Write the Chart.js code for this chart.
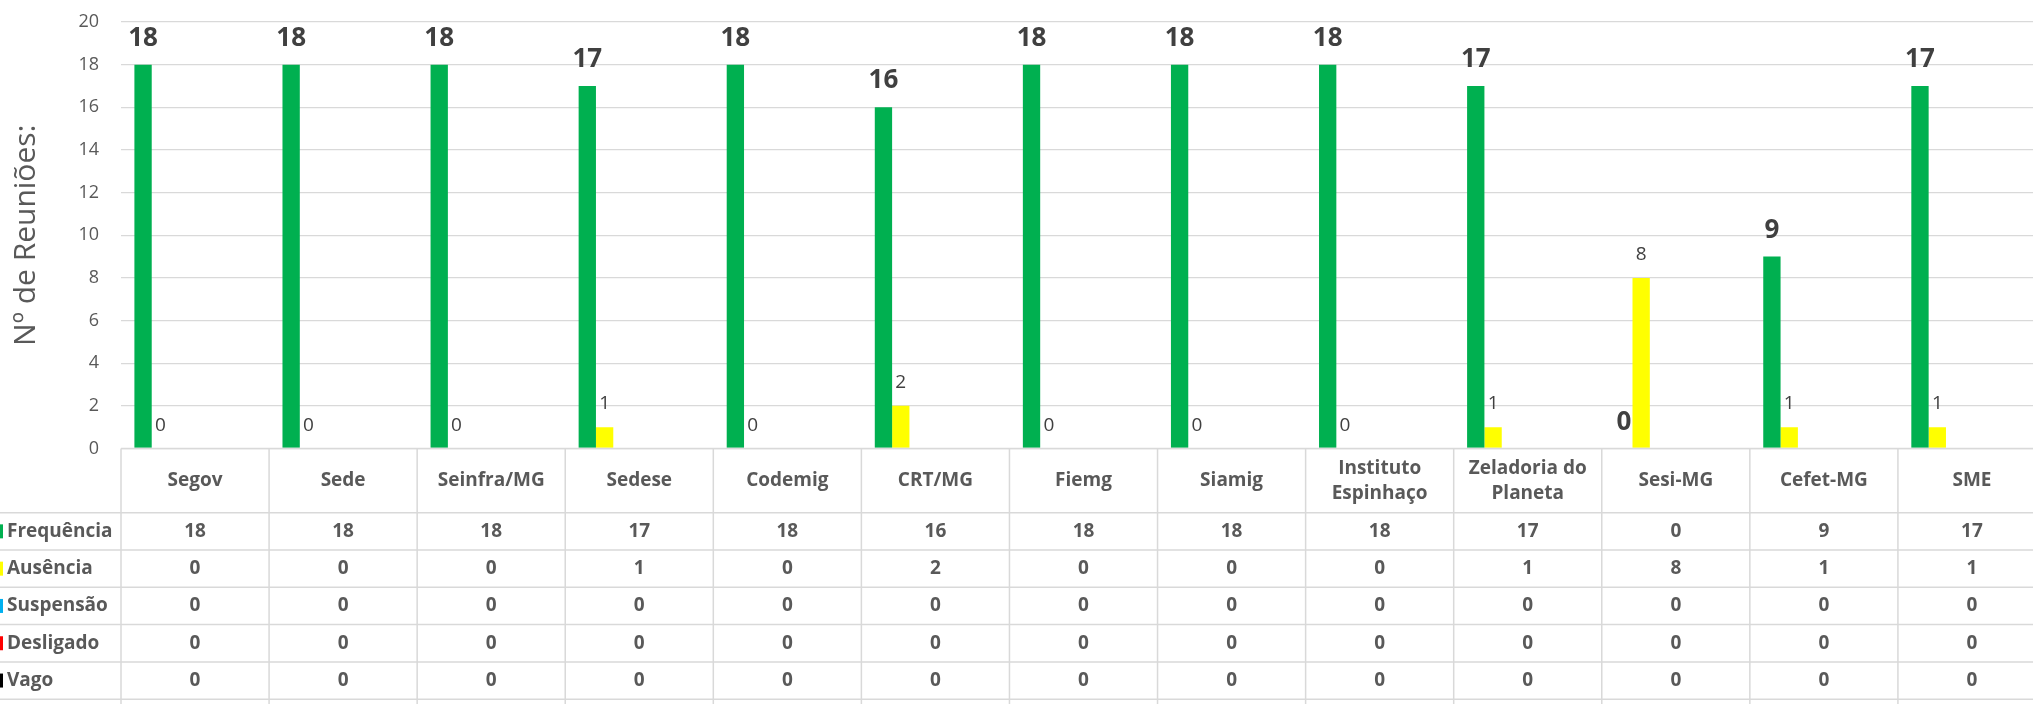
<!DOCTYPE html>
<html>
<head>
<meta charset="utf-8">
<script src="https://cdn.jsdelivr.net/npm/chart.js@4.4.0/dist/chart.umd.min.js"></script>
<style>
html, body { margin: 0; padding: 0; overflow: hidden; background: #fff; }
#wrap { width: 2060px; height: 704px; }
</style>
</head>
<body>
<div id="wrap"><canvas id="grafico"></canvas></div>
<script>
// dados do gráfico
var categorias = ['Segov', 'Sede', 'Seinfra/MG', 'Sedese', 'Codemig', 'CRT/MG', 'Fiemg', 'Siamig',
    ['Instituto', 'Espinhaço'], ['Zeladoria do', 'Planeta'], 'Sesi-MG', 'Cefet-MG', 'SME'];
var frequencia = [18, 18, 18, 17, 18, 16, 18, 18, 18, 17, 0, 9, 17];
var ausencia   = [0, 0, 0, 1, 0, 2, 0, 0, 0, 1, 8, 1, 1];
var suspensao  = [0, 0, 0, 0, 0, 0, 0, 0, 0, 0, 0, 0, 0];
var desligado  = [0, 0, 0, 0, 0, 0, 0, 0, 0, 0, 0, 0, 0];
var vago       = [0, 0, 0, 0, 0, 0, 0, 0, 0, 0, 0, 0, 0];
var nomesSeries = ['Frequência', 'Ausência', 'Suspensão', 'Desligado', 'Vago'];
var coresSeries = ['#00B050', '#FFFF00', '#00B0F0', '#FF0000', '#000000'];
var valoresSeries = [frequencia, ausencia, suspensao, desligado, vago];
var yMin = 0, yMax = 20, yPasso = 2;

var fonte = '"Open Sans", sans-serif';
var cinza = '#595959';

// rótulos das barras + tabela de dados abaixo do gráfico
var tabelaPlugin = {
    id: 'tabela',
    afterDatasetsDraw: function (chart) {
        var ctx = chart.ctx;
        ctx.save();
        ctx.fillStyle = '#404040';
        ctx.textAlign = 'center';
        ctx.textBaseline = 'alphabetic';
        // Frequência: negrito grande
        ctx.font = 'bold 26px ' + fonte;
        chart.getDatasetMeta(0).data.forEach(function (bar, i) {
            ctx.fillText(frequencia[i], bar.x, bar.y - 19);
        });
        // Ausência: normal
        ctx.font = '19px ' + fonte;
        chart.getDatasetMeta(1).data.forEach(function (bar, i) {
            ctx.fillText(ausencia[i], bar.x, bar.y - 18);
        });
        ctx.restore();
    },
    afterDraw: function (chart) {
        var ctx = chart.ctx;
        var x = chart.scales.x;
        var area = chart.chartArea;
        var W = chart.width, H = chart.height;
        var colW = (area.right - area.left) / categorias.length;
        var topo = area.bottom;
        var altCat = 64.2, altLinha = 37.3;

        ctx.save();
        ctx.strokeStyle = '#d9d9d9';
        ctx.lineWidth = 1.5;
        ctx.beginPath();
        ctx.moveTo(area.left, topo);
        ctx.lineTo(W, topo);
        for (var r = 0; r <= 6; r++) {
            var yy = topo + altCat + r * altLinha;
            ctx.moveTo(0, yy);
            ctx.lineTo(W, yy);
        }
        for (var c = 0; c <= categorias.length; c++) {
            var xx = area.left + c * colW;
            ctx.moveTo(xx, topo);
            ctx.lineTo(xx, H);
        }
        ctx.stroke();

        // nomes das categorias
        ctx.fillStyle = cinza;
        ctx.font = 'bold 19px ' + fonte;
        ctx.textAlign = 'center';
        ctx.textBaseline = 'middle';
        categorias.forEach(function (cat, i) {
            var cx = x.getPixelForValue(i);
            var cy = topo + altCat / 2;
            if (Array.isArray(cat)) {
                ctx.fillText(cat[0], cx, cy - 12);
                ctx.fillText(cat[1], cx, cy + 13);
            } else {
                ctx.fillText(cat, cx, cy);
            }
        });

        // linhas de séries
        nomesSeries.forEach(function (nome, s) {
            var cy = topo + altCat + s * altLinha + altLinha / 2;
            ctx.fillStyle = coresSeries[s];
            ctx.fillRect(0, cy - 7, 3, 14);
            ctx.fillStyle = cinza;
            ctx.textAlign = 'left';
            ctx.fillText(nome, 7, cy);
            ctx.textAlign = 'center';
            valoresSeries[s].forEach(function (v, i) {
                ctx.fillText(v, x.getPixelForValue(i), cy);
            });
        });
        ctx.restore();
    }
};

var datasets = nomesSeries.map(function (nome, s) {
    return {
        label: nome,
        data: valoresSeries[s],
        backgroundColor: coresSeries[s],
        borderWidth: 0
    };
});
// duas séries vazias (linhas da tabela cortadas abaixo) só ocupam espaço no grupo
datasets.push({ label: '', data: [], backgroundColor: 'transparent' });
datasets.push({ label: '', data: [], backgroundColor: 'transparent' });

var ctxGrafico = document.getElementById('grafico').getContext('2d');
var grafico = new Chart(ctxGrafico, {
    type: 'bar',
    data: {
        labels: categorias,
        datasets: datasets
    },
    options: {
        responsive: true,
        maintainAspectRatio: false,
        animation: false,
        categoryPercentage: 0.819,
        barPercentage: 1,
        layout: { padding: { top: 22, right: 14, bottom: 255.5, left: 0 } },
        plugins: {
            legend: { display: false },
            tooltip: { enabled: false }
        },
        scales: {
            x: { display: false },
            y: {
                min: yMin,
                max: yMax,
                border: { display: false },
                grid: { color: '#d9d9d9', lineWidth: 1.3, drawTicks: false },
                ticks: { stepSize: yPasso, color: cinza, padding: 22, font: { family: fonte, size: 18 } },
                title: {
                    display: true,
                    text: 'Nº de Reuniões:',
                    color: cinza,
                    padding: { top: 8, bottom: 0 },
                    font: { family: fonte, size: 30 }
                },
                afterFit: function (scale) {
                    scale.width = 121;
                    scale.paddingTop = 0;
                    scale.paddingBottom = 0;
                }
            }
        }
    },
    plugins: [tabelaPlugin]
});
</script>
</body>
</html>
